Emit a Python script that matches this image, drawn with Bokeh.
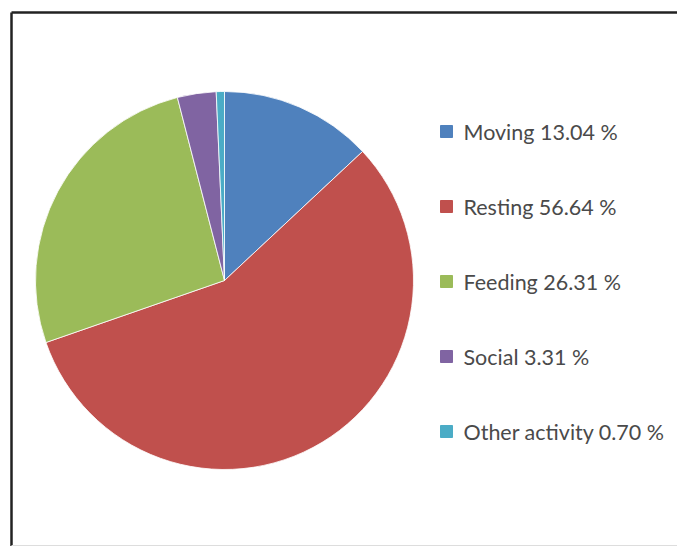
from bokeh.plotting import figure
from bokeh.models import Range1d, ColumnDataSource
from bokeh.core.properties import value
from bokeh.embed import file_html
from bokeh.resources import INLINE
import math

categories = ["Moving", "Resting", "Feeding", "Social", "Other activity"]
percent = [13.04, 56.64, 26.31, 3.31, 0.70]
colors = ["#4F81BD", "#C0504D", "#9BBB59", "#8064A2", "#4BACC6"]
labels = ["Moving 13.04 %", "Resting 56.64 %", "Feeding 26.31 %", "Social 3.31 %", "Other activity 0.70 %"]

W, H = 677, 546
p = figure(width=W, height=H, output_backend="svg", toolbar_location=None,
           x_range=Range1d(0, W), y_range=Range1d(0, H), min_border=0)
p.axis.visible = False
p.grid.visible = False
p.outline_line_color = None
p.background_fill_color = "white"

def px(x):
    return x

def py(y):
    return H - y

total = sum(percent)
starts, ends = [], []
cum = 0.0
for v in percent:
    a0 = math.pi / 2 - 2 * math.pi * (cum + v) / total
    a1 = math.pi / 2 - 2 * math.pi * cum / total
    starts.append(a0)
    ends.append(a1)
    cum += v

src = ColumnDataSource(dict(start=starts, end=ends, color=colors))
p.wedge(x=px(224), y=py(280), radius=189, radius_units="screen",
        start_angle="start", end_angle="end", fill_color="color",
        line_color="white", line_width=0.8, source=src)

# legend
ly = [131, 206, 281, 356, 431]
lsrc = ColumnDataSource(dict(x=[px(446)] * 5, y=[py(v) for v in ly], color=colors,
                             tx=[px(463)] * 5, label=labels))
p.scatter(x="x", y="y", marker="square", size=12, fill_color="color",
          line_color="color", source=lsrc)
p.text(x="tx", y="y", text="label", text_font=value("Lato"), text_font_size="21.5px",
       text_color="#4a4a4a", text_baseline="middle", text_align="left", source=lsrc)

# frame lines
p.line(x=[px(11), px(677)], y=[py(12), py(12)], line_color="#222222", line_width=2.5)
p.line(x=[px(11), px(11)], y=[py(12), py(546)], line_color="#222222", line_width=2.5)
p.line(x=[px(11), px(677)], y=[py(545), py(545)], line_color="#dddddd", line_width=1)

open("out.html", "w").write(file_html(p, INLINE))
